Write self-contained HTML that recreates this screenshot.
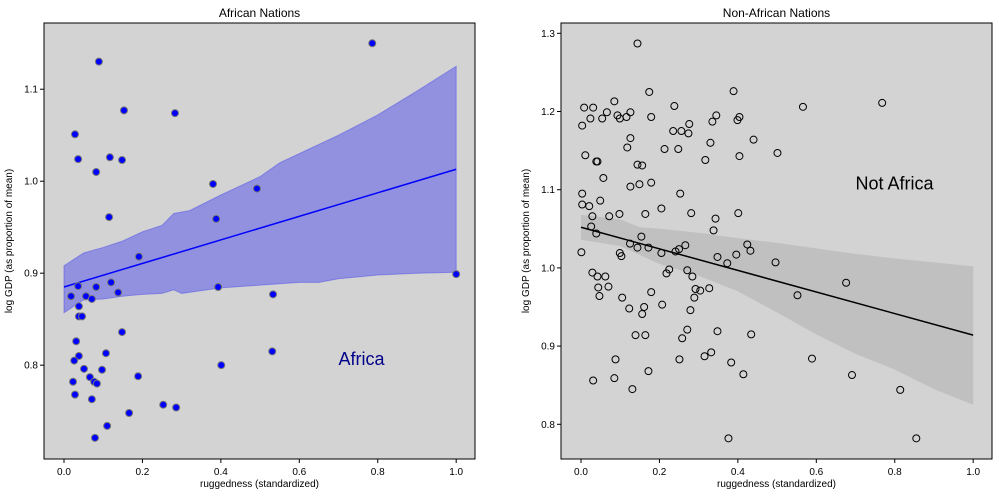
<!DOCTYPE html>
<html><head><meta charset="utf-8"><style>
body{margin:0;background:#fff;}
svg{display:block;font-family:"Liberation Sans",sans-serif;}
</style></head><body>
<svg id="c" width="999" height="496"></svg>
<script>
const afX=[0.089,0.786,0.028,0.153,0.283,0.036,0.117,0.148,0.082,0.380,0.492,0.115,0.388,0.191,1.0,0.393,0.036,0.082,0.120,0.138,0.533,0.018,0.056,0.071,0.038,0.038,0.046,0.148,0.031,0.107,0.038,0.026,0.401,0.531,0.051,0.097,0.066,0.189,0.077,0.084,0.023,0.028,0.071,0.166,0.253,0.286,0.110,0.079];
const afY=[1.130,1.150,1.051,1.077,1.074,1.024,1.026,1.023,1.010,0.997,0.992,0.961,0.959,0.918,0.899,0.885,0.886,0.885,0.890,0.879,0.877,0.875,0.875,0.872,0.864,0.853,0.853,0.836,0.826,0.813,0.810,0.805,0.800,0.815,0.796,0.795,0.787,0.788,0.782,0.780,0.782,0.768,0.763,0.748,0.757,0.754,0.734,0.721];
const afLine=[0.885,1.013];
const afBandX=[0,0.05,0.1,0.15,0.2,0.25,0.28,0.32,0.4,0.5,0.55,0.6,0.7,0.8,0.9,1.0];
const afUpper=[0.908,0.922,0.928,0.935,0.945,0.952,0.965,0.968,0.985,1.005,1.02,1.03,1.05,1.072,1.098,1.125];
const afLowX=[0,0.05,0.1,0.15,0.2,0.25,0.28,0.3,0.35,0.4,0.5,0.6,0.65,0.7,0.8,0.9,1.0];
const afLower=[0.857,0.871,0.872,0.875,0.877,0.878,0.882,0.878,0.881,0.884,0.887,0.890,0.890,0.894,0.898,0.900,0.901];
const naX=[0.144,0.174,0.389,0.085,0.008,0.031,0.238,0.066,0.126,0.093,0.099,0.116,0.024,0.054,0.179,0.345,0.335,0.404,0.399,0.276,0.003,0.235,0.256,0.274,0.126,0.440,0.330,0.118,0.213,0.248,0.501,0.011,0.404,0.039,0.042,0.317,0.144,0.156,0.057,0.149,0.126,0.179,0.003,0.253,0.049,0.003,0.021,0.205,0.098,0.164,0.281,0.401,0.029,0.072,0.343,0.026,0.338,0.039,0.154,0.125,0.144,0.172,0.424,0.432,0.266,0.250,0.241,0.001,0.099,0.103,0.205,0.348,0.396,0.373,0.496,0.029,0.042,0.062,0.225,0.218,0.271,0.284,0.044,0.070,0.047,0.105,0.179,0.292,0.304,0.327,0.289,0.552,0.123,0.161,0.156,0.207,0.279,0.139,0.164,0.271,0.258,0.348,0.434,0.088,0.251,0.315,0.332,0.383,0.414,0.172,0.031,0.085,0.131,0.376,0.566,0.768,0.676,0.589,0.691,0.814,0.855];
const naY=[1.287,1.225,1.226,1.213,1.205,1.205,1.207,1.199,1.199,1.195,1.191,1.193,1.191,1.191,1.193,1.195,1.187,1.193,1.189,1.184,1.182,1.175,1.175,1.172,1.166,1.164,1.160,1.154,1.152,1.152,1.147,1.144,1.143,1.136,1.136,1.138,1.132,1.131,1.115,1.107,1.104,1.109,1.095,1.095,1.086,1.081,1.079,1.076,1.069,1.069,1.070,1.070,1.066,1.066,1.063,1.053,1.048,1.044,1.040,1.031,1.026,1.026,1.030,1.022,1.029,1.024,1.021,1.020,1.019,1.015,1.019,1.014,1.017,1.006,1.007,0.994,0.989,0.989,0.998,0.993,0.997,0.989,0.975,0.976,0.964,0.962,0.969,0.973,0.971,0.974,0.962,0.965,0.948,0.950,0.941,0.953,0.946,0.914,0.914,0.921,0.910,0.919,0.915,0.883,0.883,0.887,0.892,0.879,0.864,0.868,0.856,0.859,0.845,0.782,1.206,1.211,0.981,0.884,0.863,0.844,0.782];
const naLine=[1.052,0.914];
const naBandX=[0,0.1,0.15,0.2,0.3,0.4,0.5,0.6,0.7,0.8,0.9,1.0];
const naUpper=[1.068,1.062,1.052,1.050,1.045,1.038,1.032,1.025,1.018,1.012,1.007,1.002];
const naLowX=[0,0.1,0.2,0.3,0.4,0.5,0.6,0.7,0.8,0.9,1.0];
const naLower=[1.036,1.028,1.005,0.99,0.97,0.943,0.915,0.89,0.87,0.845,0.825];
const xTicks=[0,0.2,0.4,0.6,0.8,1.0];
const afYTicks=[0.8,0.9,1.0,1.1];
const naYTicks=[0.8,0.9,1.0,1.1,1.2,1.3];

const svg=document.getElementById('c');
const NS='http://www.w3.org/2000/svg';
function mk(t,a,p){const e=document.createElementNS(NS,t);for(const k in a)e.setAttribute(k,a[k]);(p||svg).appendChild(e);return e;}
function panel(o){
  const g=mk('g',{});
  
  
  const L=o.left,R=o.left+431,T=23,B=459;
  const sx=v=>L+(v-(-0.051))/(1.048+0.051)*(R-L);
  const sy=v=>B-(v-o.y0)/(o.y1-o.y0)*(B-T);
  const bg=mk('rect',{x:L,y:T,width:R-L,height:B-T,fill:'#d3d3d3'},g);
  
  
  let d='M'+o.bx.map((x,i)=>sx(x)+','+sy(o.up[i])).join('L');
  for(let i=o.lx.length-1;i>=0;i--)d+='L'+sx(o.lx[i])+','+sy(o.lo[i]);
  const band=mk('path',{d:d+'Z',fill:o.bandFill,stroke:o.bandStroke,'stroke-width':1},g);
  
  
  const ln=mk('line',{x1:sx(0),y1:sy(o.line[0]),x2:sx(1),y2:sy(o.line[1]),stroke:o.lineColor,'stroke-width':1.5},g);
  
  
  o.px.forEach((x,i)=>{
    const c=mk('circle',{cx:sx(x),cy:sy(o.py[i]),r:3.5,fill:o.ptFill,stroke:o.ptStroke,'stroke-width':1},g);
    
    
  });
  mk('rect',{x:L,y:T,width:R-L,height:B-T,fill:'none',stroke:'#000','stroke-width':1},g);
  xTicks.forEach(v=>{
    mk('line',{x1:sx(v),y1:B,x2:sx(v),y2:B+4,stroke:'#000'},g);
    const t=mk('text',{x:sx(v),y:B+16,'text-anchor':'middle','font-size':10},g);t.textContent=v.toFixed(1);
    
    
  });
  o.yt.forEach(v=>{
    mk('line',{x1:L-4,y1:sy(v),x2:L,y2:sy(v),stroke:'#000'},g);
    const t=mk('text',{x:L-6,y:sy(v)+3.5,'text-anchor':'end','font-size':10},g);t.textContent=v.toFixed(1);
    
    
  });
  const ti=mk('text',{x:(L+R)/2,y:17,'text-anchor':'middle','font-size':12},g);ti.textContent=o.title;
  
  
  const xl=mk('text',{x:(L+R)/2,y:487,'text-anchor':'middle','font-size':10},g);xl.textContent='ruggedness (standardized)';
  
  
  const yx=L-32,yy=(T+B)/2;
  const yl=mk('text',{x:yx,y:yy,'text-anchor':'middle','font-size':10,transform:`rotate(-90 ${yx} ${yy})`},g);yl.textContent='log GDP (as proportion of mean)';
  
  
  const an=mk('text',{x:sx(0.7),y:sy(o.ay),'font-size':18,fill:o.annColor},g);an.textContent=o.ann;
  
  
}
panel({name:'africa-panel',left:44,y0:0.698,y1:1.172,px:afX,py:afY,line:afLine,bx:afBandX,up:afUpper,lx:afLowX,lo:afLower,
  bandFill:'rgba(80,80,235,0.5)',bandStroke:'rgba(80,80,235,0.5)',lineColor:'#0000ff',ptFill:'#0000ff',ptStroke:'#777',
  yt:afYTicks,title:'African Nations',ann:'Africa',ay:0.80,annColor:'#00008b'});
panel({name:'non-africa-panel',left:561,y0:0.7556,y1:1.3132,px:naX,py:naY,line:naLine,bx:naBandX,up:naUpper,lx:naLowX,lo:naLower,
  bandFill:'rgba(150,150,150,0.3)',bandStroke:'none',lineColor:'#000',ptFill:'none',ptStroke:'#000',
  yt:naYTicks,title:'Non-African Nations',ann:'Not Africa',ay:1.10,annColor:'#000'});
</script>
</body></html>
